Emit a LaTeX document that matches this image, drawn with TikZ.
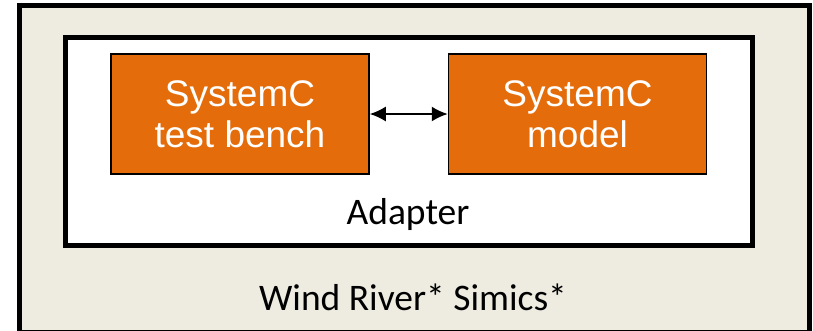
\documentclass[tikz,border=0pt]{standalone}
\usepackage{fontspec}
\setmainfont{Carlito}
\newfontfamily\armfont{Liberation Sans}
\usetikzlibrary{arrows.meta}
\definecolor{simbg}{HTML}{EEECE1}
\definecolor{scorange}{HTML}{E46C0A}

\begin{document}
\begin{tikzpicture}[x=1pt,y=-1pt,
    framebox/.style={draw=black,line width=5pt},
    scbox/.style={draw=black,line width=1.5pt,fill=scorange,minimum width=258pt,minimum height=120pt,
        text=white,align=center,font=\armfont\fontsize{37}{41}\selectfont},
    caption/.style={font=\fontsize{37.5}{40}\selectfont}]
    \useasboundingbox (0,0) rectangle (813,330);
    % Simics and adapter frames
    \draw[framebox,fill=simbg] (19.5,5.5) rectangle (809,332);
    \draw[framebox,fill=white] (65.5,37.5) rectangle (752.5,245);
    % SystemC parts
    \node[scbox] (bench) at (240,114) {SystemC\\test bench};
    \node[scbox] (model) at (577.5,114) {SystemC\\model};
    \draw[line width=1.8pt,{Latex[length=16pt,width=15pt]}-{Latex[length=16pt,width=15pt]}] (bench) -- (model);
    \node[caption] (adapter) at (408,214) {Adapter};
    \node[caption] (simics) at (413,297) {Wind River* Simics*};
\end{tikzpicture}
\end{document}
